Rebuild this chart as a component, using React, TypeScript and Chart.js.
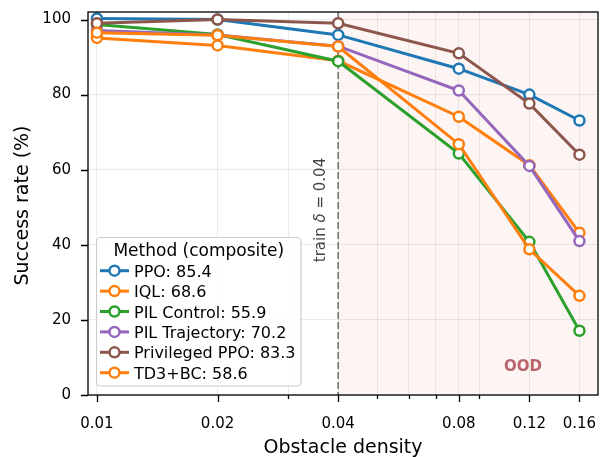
import React, { useEffect, useRef } from 'react';
import { Chart, registerables } from 'chart.js';

Chart.register(...registerables);

const densities = [0.01, 0.02, 0.04, 0.08, 0.12, 0.16];
const majorTicks = [0.01, 0.02, 0.04, 0.08, 0.12, 0.16];
const majorTickLabels = ['0.01', '0.02', '0.04', '0.08', '0.12', '0.16'];
const minorTicks = [0.03, 0.05, 0.06, 0.07, 0.09];
const yTicks = [0, 20, 40, 60, 80, 100];
const trainDensity = 0.04;

const ppo = [100.3, 100, 95.9, 86.9, 80.0, 73.1];
const iql = [95.1, 93.1, 89.0, 74.1, 61.2, 43.2];
const pilControl = [98.7, 96.0, 88.9, 64.3, 40.8, 17.1];
const pilTrajectory = [97.1, 95.9, 92.9, 81.1, 61.0, 41.0];
const privilegedPpo = [99.0, 100, 99.0, 91.0, 77.6, 64.0];
const td3bc = [96.5, 95.8, 92.8, 66.8, 38.8, 26.4];

const seriesNames = ['PPO', 'IQL', 'PIL Control', 'PIL Trajectory', 'Privileged PPO', 'TD3+BC'];
const seriesScores = ['85.4', '68.6', '55.9', '70.2', '83.3', '58.6'];
const seriesValues = [ppo, iql, pilControl, pilTrajectory, privilegedPpo, td3bc];
const seriesColors = ['#1f77b4', '#ff7f0e', '#2ca02c', '#9467bd', '#8c564b', '#ff7f0e'];

const legendTitle = 'Method (composite)';
const xTitle = 'Obstacle density';
const yTitle = 'Success rate (%)';
const oodLabel = 'OOD';

const FONT = "'DejaVu Sans', 'Noto Sans', sans-serif";

const decorPlugin = {
  id: 'decor',
  beforeDraw(chart: any) {
    const { ctx, chartArea: a, scales } = chart;
    const x0 = scales.x.getPixelForValue(trainDensity);
    ctx.save();
    ctx.fillStyle = 'rgba(214,39,40,0.05)';
    ctx.fillRect(x0, a.top, a.right - x0, a.bottom - a.top);
    ctx.restore();
  },
  beforeDatasetsDraw(chart: any) {
    const { ctx, chartArea: a, scales } = chart;
    const x0 = scales.x.getPixelForValue(trainDensity);
    ctx.save();
    ctx.strokeStyle = '#7f7f7f';
    ctx.lineWidth = 1.8;
    ctx.setLineDash([7, 3]);
    ctx.beginPath();
    ctx.moveTo(x0, a.top);
    ctx.lineTo(x0, a.bottom);
    ctx.stroke();
    ctx.setLineDash([]);

    ctx.save();
    ctx.translate(x0 - 13, 210);
    ctx.rotate(-Math.PI / 2);
    ctx.fillStyle = '#444444';
    ctx.textBaseline = 'alphabetic';
    const p1 = 'train ';
    const p2 = 'δ';
    const p3 = ' = 0.04';
    ctx.font = `15px ${FONT}`;
    const w1 = ctx.measureText(p1).width;
    const w3 = ctx.measureText(p3).width;
    ctx.font = `italic 15px ${FONT}`;
    const w2 = ctx.measureText(p2).width;
    const total = w1 + w2 + w3;
    let sx = -total / 2;
    ctx.textAlign = 'left';
    ctx.font = `15px ${FONT}`;
    ctx.fillText(p1, sx, 0);
    sx += w1;
    ctx.font = `italic 15px ${FONT}`;
    ctx.fillText(p2, sx, 0);
    sx += w2;
    ctx.font = `15px ${FONT}`;
    ctx.fillText(p3, sx, 0);
    ctx.restore();

    ctx.fillStyle = 'rgb(184,100,106)';
    ctx.font = `bold 15px ${FONT}`;
    ctx.textAlign = 'center';
    ctx.textBaseline = 'middle';
    ctx.fillText(oodLabel, 523, 367);
    ctx.restore();
  },
  afterDraw(chart: any) {
    const { ctx, chartArea: a, scales } = chart;
    ctx.save();
    ctx.strokeStyle = '#000';
    ctx.lineWidth = 1.3;
    ctx.strokeRect(a.left, a.top, a.right - a.left, a.bottom - a.top);

    ctx.lineWidth = 1.3;
    ctx.beginPath();
    majorTicks.forEach((v) => {
      const px = Math.round(scales.x.getPixelForValue(v)) + 0.5;
      ctx.moveTo(px, a.bottom);
      ctx.lineTo(px, a.bottom + 7);
    });
    minorTicks.forEach((v) => {
      const px = Math.round(scales.x.getPixelForValue(v)) + 0.5;
      ctx.moveTo(px, a.bottom);
      ctx.lineTo(px, a.bottom + 4);
    });
    yTicks.forEach((v) => {
      const py = Math.round(scales.y.getPixelForValue(v)) + 0.5;
      ctx.moveTo(a.left, py);
      ctx.lineTo(a.left - 7, py);
    });
    ctx.stroke();

    ctx.fillStyle = '#000';
    ctx.font = `19px ${FONT}`;
    ctx.textAlign = 'center';
    ctx.textBaseline = 'alphabetic';
    ctx.fillText(xTitle, (a.left + a.right) / 2, 453);
    ctx.save();
    ctx.translate(28, (a.top + a.bottom) / 2 + 2);
    ctx.rotate(-Math.PI / 2);
    ctx.fillText(yTitle, 0, 0);
    ctx.restore();

    const lx = 96.5, ly = 237.5, lw = 204.5, lh = 148.5, r = 4;
    ctx.beginPath();
    ctx.moveTo(lx + r, ly);
    ctx.lineTo(lx + lw - r, ly);
    ctx.arcTo(lx + lw, ly, lx + lw, ly + r, r);
    ctx.lineTo(lx + lw, ly + lh - r);
    ctx.arcTo(lx + lw, ly + lh, lx + lw - r, ly + lh, r);
    ctx.lineTo(lx + r, ly + lh);
    ctx.arcTo(lx, ly + lh, lx, ly + lh - r, r);
    ctx.lineTo(lx, ly + r);
    ctx.arcTo(lx, ly, lx + r, ly, r);
    ctx.closePath();
    ctx.fillStyle = 'rgba(255,255,255,0.85)';
    ctx.fill();
    ctx.strokeStyle = '#cccccc';
    ctx.lineWidth = 1.2;
    ctx.stroke();

    ctx.fillStyle = '#000';
    ctx.font = `17px ${FONT}`;
    ctx.textAlign = 'center';
    ctx.fillText(legendTitle, lx + lw / 2, 256);

    ctx.font = `16px ${FONT}`;
    ctx.textAlign = 'left';
    seriesNames.forEach((name, i) => {
      const base = 276.7 + i * 20.4;
      const cy = base - 6;
      ctx.strokeStyle = seriesColors[i];
      ctx.lineWidth = 3;
      ctx.beginPath();
      ctx.moveTo(100, cy);
      ctx.lineTo(129, cy);
      ctx.stroke();
      ctx.beginPath();
      ctx.arc(114.5, cy, 5, 0, Math.PI * 2);
      ctx.fillStyle = '#fff';
      ctx.fill();
      ctx.lineWidth = 2.5;
      ctx.stroke();
      ctx.fillStyle = '#000';
      ctx.fillText(`${name}: ${seriesScores[i]}`, 134, base);
    });
    ctx.restore();
  },
};

export default function App() {
  const canvasRef = useRef<HTMLCanvasElement | null>(null);

  useEffect(() => {
    document.body.style.margin = '0';
    const canvas = canvasRef.current;
    if (!canvas) return;
    const allXTicks = [...majorTicks, ...minorTicks].sort((p, q) => p - q);
    const chart = new Chart(canvas, {
      type: 'line',
      data: {
        datasets: seriesNames.map((name, i) => ({
          label: name,
          data: densities.map((d, j) => ({ x: d, y: seriesValues[i][j] })),
          borderColor: seriesColors[i],
          backgroundColor: '#ffffff',
          pointBackgroundColor: '#ffffff',
          pointBorderColor: seriesColors[i],
          pointBorderWidth: 2.5,
          pointRadius: 5,
          pointHoverRadius: 5,
          borderWidth: 3,
          tension: 0,
          fill: false,
          clip: 8,
          order: seriesNames.length - i,
        })),
      },
      options: {
        responsive: false,
        animation: false,
        events: [],
        layout: { autoPadding: false, padding: { left: 0, right: 2, top: 12, bottom: 0 } },
        plugins: {
          legend: { display: false },
          tooltip: { enabled: false },
          title: { display: false },
        },
        scales: {
          x: {
            type: 'logarithmic',
            min: 0.0095,
            max: 0.178,
            afterBuildTicks: (scale: any) => {
              scale.ticks = allXTicks.map((v) => ({ value: v }));
            },
            afterFit: (scale: any) => {
              scale.height = 62;
              scale.paddingLeft = 0;
              scale.paddingRight = 0;
              scale.paddingTop = 0;
              scale.paddingBottom = 0;
            },
            ticks: {
              autoSkip: false,
              maxRotation: 0,
              minRotation: 0,
              padding: 20,
              color: '#000',
              font: { family: FONT, size: 15 },
              callback: (value: any) => {
                const idx = majorTicks.findIndex((m) => Math.abs(m - Number(value)) < 1e-9);
                return idx >= 0 ? majorTickLabels[idx] : '';
              },
            },
            grid: { color: 'rgba(0,0,0,0.08)', lineWidth: 1, drawTicks: false },
            border: { display: false },
          },
          y: {
            type: 'linear',
            min: 0,
            max: 102,
            afterBuildTicks: (scale: any) => {
              scale.ticks = yTicks.map((v) => ({ value: v }));
            },
            afterFit: (scale: any) => {
              scale.width = 88;
              scale.paddingLeft = 0;
              scale.paddingRight = 0;
              scale.paddingTop = 0;
              scale.paddingBottom = 0;
            },
            ticks: {
              padding: 17,
              color: '#000',
              font: { family: FONT, size: 15 },
              callback: (value: any) => String(value),
            },
            grid: { color: 'rgba(0,0,0,0.08)', lineWidth: 1, drawTicks: false },
            border: { display: false },
          },
        },
      },
      plugins: [decorPlugin],
    } as any);
    return () => chart.destroy();
  }, []);

  return (
    <div style={{ width: 600, height: 457 }}>
      <canvas ref={canvasRef} width={600} height={457} style={{ display: 'block' }} />
    </div>
  );
}
